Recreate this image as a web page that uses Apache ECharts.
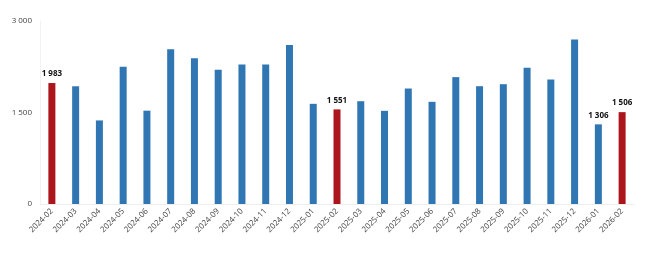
<!DOCTYPE html>
<html><head><meta charset="utf-8">
<script src="https://cdn.jsdelivr.net/npm/echarts@6/dist/echarts.min.js"></script>
<style>html,body{margin:0;padding:0;background:#fff}#c{width:650px;height:263px}</style>
</head><body><div id="c"></div>
<script>
const categories = ["2024-02","2024-03","2024-04","2024-05","2024-06","2024-07","2024-08","2024-09","2024-10","2024-11","2024-12","2025-01","2025-02","2025-03","2025-04","2025-05","2025-06","2025-07","2025-08","2025-09","2025-10","2025-11","2025-12","2026-01","2026-02"];
const values = [1983,1930,1370,2250,1530,2535,2390,2200,2287,2287,2605,1642,1551,1685,1527,1893,1675,2080,1931,1964,2233,2041,2698,1306,1506];
const highlighted = ["2024-02","2025-02","2026-02"];
const labelled = ["2024-02","2025-02","2026-01","2026-02"];
const yTicks = [0,1500,3000];
const fmt = v => String(v).replace(/\B(?=(\d{3})+(?!\d))/g, ' ');
const chart = echarts.init(document.getElementById('c'));
chart.setOption({
  animation:false,
  grid:{left:40,right:16,top:21,bottom:59},
  xAxis:{type:'category',data:categories,
    axisLine:{show:true,lineStyle:{color:'#eeeeee'}},axisTick:{show:false},
    axisLabel:{rotate:45,fontSize:8,color:'#444',fontFamily:'Open Sans',margin:6,interval:0}},
  yAxis:{type:'value',min:0,max:3000,interval:1500,
    axisLine:{show:true,lineStyle:{color:'#f2f2f2'}},axisTick:{show:false},splitLine:{show:false},
    axisLabel:{fontSize:8,color:'#444',fontFamily:'Open Sans',margin:8,formatter:v=>yTicks.includes(v)?fmt(v):''}},
  series:[{type:'bar',barWidth:7,
    data:values.map((v,i)=>({value:v,
      itemStyle:{color:highlighted.includes(categories[i])?'#ab151b':'#2f76b3'},
      label:{show:labelled.includes(categories[i]),position:'top',distance:5,formatter:p=>fmt(p.value),
        fontSize:8,fontWeight:'bold',color:'#111',fontFamily:'Open Sans'}}))}]
});
</script></body></html>
